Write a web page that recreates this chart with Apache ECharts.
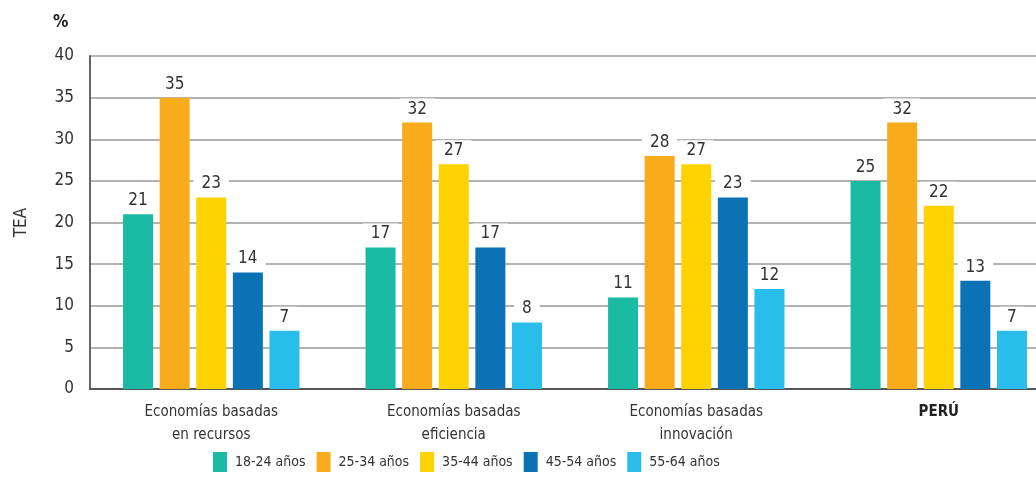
<!DOCTYPE html>
<html>
<head>
<meta charset="utf-8">
<script src="https://cdn.jsdelivr.net/npm/echarts@6/dist/echarts.min.js"></script>
<style>
  html, body { margin: 0; padding: 0; background: #fff; }
  #chart { width: 1036px; height: 491px; }
</style>
</head>
<body>
<div id="chart"></div>
<script>
// Categorías (grupos de economías)
const categories = [
  'Economías basadas\nen recursos',
  'Economías basadas\neficiencia',
  'Economías basadas\ninnovación',
  'PERÚ'
];

// Rangos de edad
const ageGroups = ['18-24 años', '25-34 años', '35-44 años', '45-54 años', '55-64 años'];

// TEA (%) por rango de edad, en el orden de las categorías
const tea1824 = [21, 17, 11, 25];
const tea2534 = [35, 32, 28, 32];
const tea3544 = [23, 27, 27, 22];
const tea4554 = [14, 17, 23, 13];
const tea5564 = [7, 8, 12, 7];

const yTicks = [0, 5, 10, 15, 20, 25, 30, 35, 40];

const seriesValues = [tea1824, tea2534, tea3544, tea4554, tea5564];
const colors = ['#1bbaa2', '#f8ac1c', '#fcd200', '#0b72b5', '#28bdeb'];

const font = '"Liberation Sans Narrow", "DejaVu Sans Condensed", "Noto Sans", sans-serif';

const chart = echarts.init(document.getElementById('chart'), null, { renderer: 'canvas' });

chart.setOption({
  animation: false,
  backgroundColor: '#ffffff',
  color: colors,
  // the plot runs past the right edge, so the last group sits near the border
  grid: { left: 90, width: 970, top: 56, bottom: 102, containLabel: false, outerBoundsMode: 'none' },
  legend: {
    left: 208,
    top: 447,
    itemWidth: 14,
    itemHeight: 20,
    itemGap: 11,
    icon: 'rect',
    textStyle: { fontFamily: font, fontSize: 14, color: '#333', padding: [5, 0, 0, 3] },
    data: ageGroups
  },
  xAxis: {
    type: 'category',
    data: categories,
    axisLine: { lineStyle: { color: '#555', width: 2 } },
    axisTick: { show: false },
    axisLabel: {
      fontFamily: font,
      fontSize: 15,
      color: '#333',
      lineHeight: 23,
      margin: 12,
      formatter: function (v) {
        return v === 'PERÚ' ? '{b|' + v + '}' : v;
      },
      rich: { b: { fontFamily: font, fontSize: 15, fontWeight: 'bold', color: '#222' } }
    }
  },
  yAxis: {
    type: 'value',
    min: yTicks[0],
    max: yTicks[yTicks.length - 1],
    interval: 5,
    name: 'TEA',
    nameLocation: 'middle',
    nameGap: 60,
    nameTextStyle: { fontFamily: font, fontSize: 17, color: '#333' },
    axisLine: { show: true, lineStyle: { color: '#666', width: 2 } },
    axisTick: { show: false },
    axisLabel: { fontFamily: font, fontSize: 17, color: '#333', margin: 16 },
    splitLine: { lineStyle: { color: '#9a9a9a', width: 1.5 } }
  },
  graphic: [{
    type: 'text',
    left: 53,
    top: 14,
    style: { text: '%', font: 'bold 17px ' + font, fill: '#222' }
  }],
  series: seriesValues.map(function (vals, i) {
    return {
      name: ageGroups[i],
      type: 'bar',
      data: vals,
      barWidth: 30,
      barGap: '22%',
      itemStyle: { color: colors[i] },
      label: {
        show: true,
        position: 'top',
        distance: 4,
        fontFamily: font,
        fontSize: 17,
        color: '#333',
        backgroundColor: '#ffffff',
        padding: [2, 8, 1, 8]
      }
    };
  })
});
</script>
</body>
</html>
